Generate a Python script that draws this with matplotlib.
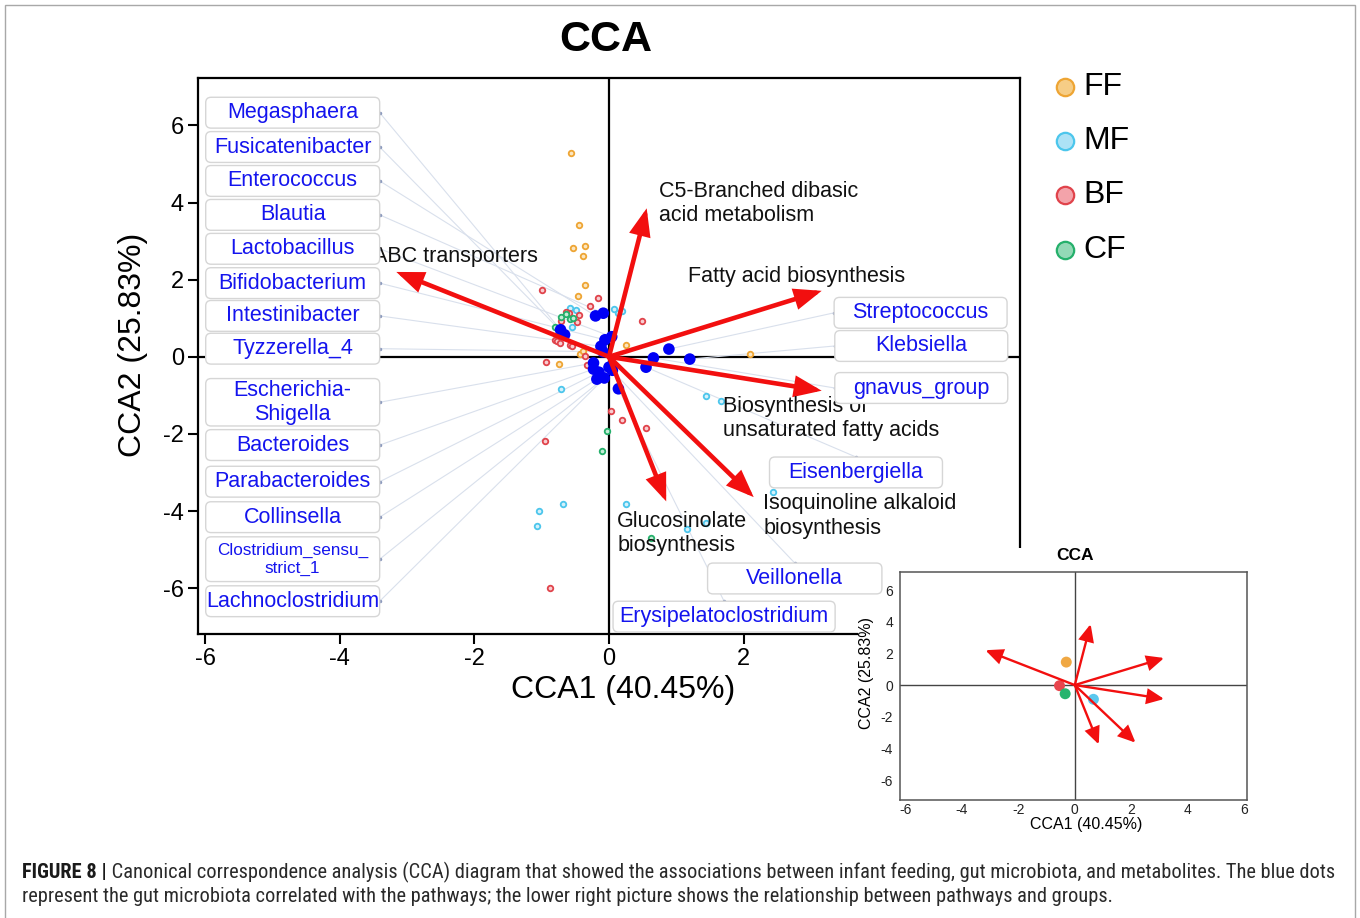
import matplotlib
matplotlib.use("Agg")
import matplotlib.pyplot as plt
from matplotlib.patches import FancyBboxPatch, FancyArrowPatch, Rectangle
from matplotlib.lines import Line2D
from matplotlib import font_manager
from matplotlib.font_manager import FontProperties

# ---------------- data ----------------
# sample scores on CCA1 / CCA2, one list pair per feeding group
ff_x = [-0.57, -0.45, -0.54, -0.36, -0.39, -0.35, -0.46, 0.25, -0.43, -0.39, -0.75, 2.09]
ff_y = [5.28, 3.43, 2.82, 2.87, 2.62, 1.85, 1.58, 0.30, 0.08, 0.14, -0.19, 0.08]

mf_x = [-0.58, -0.49, -0.55, 0.07, 0.13, 0.20, -0.72, 1.44, 1.66, -0.68, -1.04, -1.07, 0.25, 1.16, 1.44, 2.44]
mf_y = [1.26, 1.21, 0.78, 1.24, 1.14, 1.20, -0.83, -1.01, -1.14, -3.82, -3.99, -4.39, -3.81, -4.47, -4.32, -3.52]

bf_x = [-1.00, -0.17, -0.28, -0.59, -0.45, -0.71, -0.47, 0.49, -0.80, -0.78, -0.73, -0.58, -0.55,
        -0.35, -0.94, -0.33, 0.03, 0.19, 0.55, -0.95, -0.87, -0.64]
bf_y = [1.72, 1.52, 1.32, 1.14, 1.09, 0.94, 0.91, 0.94, 0.44, 0.40, 0.36, 0.31, 0.27,
        0.01, -0.14, -0.21, -1.41, -1.65, -1.84, -2.19, -5.99, 1.15]

cf_x = [-0.72, -0.64, -0.58, -0.53, -0.80, -0.03, -0.10, 0.62]
cf_y = [1.03, 1.10, 0.98, 1.00, 0.78, -1.93, -2.44, -4.71]

groups = ["FF", "MF", "BF", "CF"]

# genus scores
genera = ["Megasphaera", "Fusicatenibacter", "Enterococcus", "Blautia", "Lactobacillus",
          "Bifidobacterium", "Intestinibacter", "Tyzzerella_4", "Escherichia-\nShigella",
          "Bacteroides", "Parabacteroides", "Collinsella", "Clostridium_sensu_\nstrict_1",
          "Lachnoclostridium", "Streptococcus", "Klebsiella", "gnavus_group",
          "Eisenbergiella", "Veillonella", "Erysipelatoclostridium"]
genus_x = [-0.72, -0.66, -0.20, -0.085, 0.04, -0.06, -0.12, -0.09, -0.23, -0.23, -0.15, -0.18,
           -0.07, 0.05, 0.89, 1.20, 0.66, 0.55, 0.00, 0.14]
genus_y = [0.70, 0.57, 1.06, 1.13, 0.52, 0.44, 0.27, 0.13, -0.16, -0.32, -0.40, -0.58,
           -0.55, -0.35, 0.20, -0.06, -0.03, -0.27, -0.27, -0.83]

# pathway biplot vectors
pathways = ["ABC transporters", "C5-Branched dibasic\nacid metabolism", "Fatty acid biosynthesis",
            "Biosynthesis of\nunsaturated fatty acids", "Isoquinoline alkaloid\nbiosynthesis",
            "Glucosinolate\nbiosynthesis"]
path_x = [-3.16, 0.56, 3.16, 3.16, 2.15, 0.85]
path_y = [2.20, 3.85, 1.71, -0.88, -3.64, -3.75]

# group centroids for the small panel
centroid_x = [-0.30, 0.66, -0.54, -0.34]
centroid_y = [1.45, -0.90, -0.04, -0.55]

xlabel = "CCA1 (40.45%)"
ylabel = "CCA2 (25.83%)"
ticks = [-6, -4, -2, 0, 2, 4, 6]
main_xticks = [-6, -4, -2, 0, 2]   # the right part of the x axis sits behind the small panel

# ---------------- layout of genus labels (data coords) ----------------
lab_cx = [-4.70] * 14 + [4.63, 4.64, 4.64, 3.67, 2.76, 1.71]
lab_cy = [6.33, 5.44, 4.56, 3.68, 2.80, 1.91, 1.06, 0.21, -1.18, -2.29, -3.24, -4.16, -5.25,
          -6.34, 1.14, 0.28, -0.81, -3.00, -5.75, -6.74]
lab_w = [2.585] * 14 + [2.57, 2.57, 2.57, 2.57, 2.59, 3.30]
lab_h = [0.80] * 8 + [1.23, 0.80, 0.80, 0.80, 1.16, 0.80] + [0.80] * 6
lab_fs = [15.5] * 12 + [12.3] + [15.5] * 7
lab_anchor = ["r"] * 14 + ["l", "l", "l", "t", "t", "t"]

path_tx = [-3.50, 0.74, 1.17, 1.69, 2.29, 0.12]
path_ty = [2.61, 3.98, 2.09, -1.61, -4.13, -4.59]

# ---------------- style ----------------
W, H = 1360, 918
plt.rcParams["font.family"] = ["Liberation Sans", "DejaVu Sans"]
plt.rcParams["axes.unicode_minus"] = False

ring_edge = {"FF": "#eea534", "MF": "#4cc6ec", "BF": "#e0434b", "CF": "#25b06b"}
ring_face = {"FF": "#fbe6c0", "MF": "#d4f1fb", "BF": "#f8cdd0", "CF": "#c6ecd7"}
legend_face = {"FF": "#f6cd86", "MF": "#ade2f6", "BF": "#f3a3aa", "CF": "#93d9b6"}
solid = {"FF": "#f0a843", "MF": "#5bc8ee", "BF": "#e8464e", "CF": "#27b46e"}
RED = "#f20f0f"
BLUE = "#0000f5"
TXT_BLUE = "#1414ee"


def fx(x):
    return x / W


def fy(y):
    return 1 - y / H


def has_font(name):
    try:
        font_manager.findfont(FontProperties(family=name), fallback_to_default=False)
        return True
    except Exception:
        return False


def caption_props(weight):
    """Pick a narrow sans face for the caption if one is installed."""
    for fam in ["Liberation Sans Narrow", "Roboto Condensed", "Open Sans Condensed",
                "Noto Sans Condensed", "Arial Narrow"]:
        if has_font(fam):
            return FontProperties(family=[fam, "DejaVu Sans"], weight=weight)
    for fam in ["Roboto", "Noto Sans", "Open Sans"]:
        fp = FontProperties(family=fam, stretch="condensed", weight=weight)
        try:
            path = font_manager.findfont(fp, fallback_to_default=False)
        except Exception:
            continue
        if "condensed" in path.lower() or "narrow" in path.lower():
            return fp
    return FontProperties(family=["Liberation Sans", "DejaVu Sans"], weight=weight)


fig = plt.figure(figsize=(W / 100, H / 100), dpi=100)
fig.patch.set_facecolor("white")

# outer frame
frame = Rectangle((fx(5), fy(930)), fx(1350), (930 - 5) / H, transform=fig.transFigure,
                  fill=False, ec="#a8a8a8", lw=1.0, clip_on=False, zorder=0)
fig.add_artist(frame)

# ---------------- main biplot ----------------
ax = fig.add_axes([fx(198), fy(634), (1020 - 198) / W, (634 - 78) / H])
ax.set_zorder(1)
ax.set_xlim(-6.107, 6.107)
ax.set_ylim(-7.19, 7.23)
ax.set_xticks(main_xticks)
ax.set_yticks(ticks)
ax.set_xticklabels([str(t) for t in main_xticks])
ax.set_yticklabels([str(t) for t in ticks])
ax.tick_params(direction="out", length=7, width=1.5, labelsize=17, pad=3, colors="black")
for sp in ax.spines.values():
    sp.set_linewidth(1.6)
    sp.set_color("black")

ax.axhline(0, color="black", lw=1.6, zorder=1)
ax.axvline(0, color="black", lw=1.6, zorder=1)

ax.set_xlabel(xlabel, fontsize=23)
ax.xaxis.label.set_va("center")
ax.xaxis.set_label_coords((623 - 198) / 822, -(690 - 634) / 556)
ax.set_ylabel(ylabel, fontsize=23)
ax.yaxis.label.set_va("center")
ax.yaxis.set_label_coords(-(198 - 133) / 822, (634 - 345) / 556)

# segments joining genus points to their labels
aspect = 67.3 / 38.55
for i, name in enumerate(genera):
    cx, cy, w, h = lab_cx[i], lab_cy[i], lab_w[i], lab_h[i]
    side = lab_anchor[i]
    if side == "r":
        ex, ey = cx + w / 2, cy
    elif side == "l":
        ex, ey = cx - w / 2, cy
    else:
        ex, ey = cx, cy + h / 2
    ax.plot([genus_x[i], ex], [genus_y[i], ey], color="#d9e0ec", lw=0.8, zorder=2)
    ax.plot([ex], [ey], marker="o", ms=1.5, color="#8a98bc", zorder=2.1)

# samples
for g, xs, ys in zip(groups, [ff_x, mf_x, bf_x, cf_x], [ff_y, mf_y, bf_y, cf_y]):
    ax.scatter(xs, ys, s=16, facecolors=ring_face[g], edgecolors=ring_edge[g],
               linewidths=1.3, zorder=3)

# genera
ax.scatter(genus_x, genus_y, s=70, color=BLUE, edgecolors="none", zorder=4)

# pathway arrows
for x, y in zip(path_x, path_y):
    arr = FancyArrowPatch((0, 0), (x, y), arrowstyle="-|>,head_length=1.4,head_width=0.55",
                          mutation_scale=10, lw=3.3, color=RED, shrinkA=0, shrinkB=0,
                          joinstyle="miter", zorder=5)
    ax.add_patch(arr)

for name, x, y in zip(pathways, path_tx, path_ty):
    ax.text(x, y, name, fontsize=15.5, ha="left", va="center", color="#111111",
            linespacing=1.2, zorder=6)

# genus labels in rounded boxes
for i, name in enumerate(genera):
    cx, cy, w, h = lab_cx[i], lab_cy[i], lab_w[i], lab_h[i]
    box = FancyBboxPatch((cx - w / 2, cy - h / 2), w, h,
                         boxstyle="round,pad=0,rounding_size=0.08", mutation_aspect=aspect,
                         fc="white", ec="#d6d6d6", lw=1.0, zorder=7)
    ax.add_patch(box)
    ax.text(cx, cy, name, fontsize=lab_fs[i], ha="center", va="center", color=TXT_BLUE,
            linespacing=1.2, zorder=8)

# title
fig.text(fx(606), fy(40), "CCA", fontsize=31, weight="bold", ha="center", va="center")

# legend
for k, (g, yy) in enumerate(zip(groups, [87, 141, 195, 250])):
    fig.add_artist(Line2D([fx(1065)], [fy(yy)], marker="o", ms=12.5, mfc=legend_face[g],
                          mec=ring_edge[g], mew=1.6, ls="none", transform=fig.transFigure))
    fig.text(fx(1083), fy(yy), g, fontsize=23, ha="left", va="center")

# white backing behind the small panel
for (x0, y0, x1, y1) in [(884, 548, 1258, 838), (858, 600, 1258, 838)]:
    fig.add_artist(Rectangle((fx(x0), fy(y1)), (x1 - x0) / W, (y1 - y0) / H,
                             transform=fig.transFigure, fc="white", ec="none", zorder=2))

# ---------------- small panel: pathways vs groups ----------------
axi = fig.add_axes([fx(900), fy(800), (1247 - 900) / W, (800 - 572) / H])
axi.set_zorder(3)
axi.set_xlim(-6.18, 6.09)
axi.set_ylim(-7.26, 7.14)
axi.set_xticks(ticks)
axi.set_yticks(ticks)
axi.set_xticklabels([str(t) for t in ticks])
axi.set_yticklabels([str(t) for t in ticks])
axi.tick_params(length=0, labelsize=10, colors="#222222")
axi.tick_params(axis="x", pad=2)
axi.tick_params(axis="y", pad=5)
for sp in axi.spines.values():
    sp.set_linewidth(1.1)
    sp.set_color("#555555")
axi.axhline(0, color="#444444", lw=1.0, zorder=1)
axi.axvline(0, color="#444444", lw=1.0, zorder=1)
for g, x, y in zip(groups, centroid_x, centroid_y):
    axi.scatter([x], [y], s=62, color=solid[g], edgecolors="none", zorder=3)
for x, y in zip(path_x, path_y):
    arr = FancyArrowPatch((0, 0), (x, y), arrowstyle="-|>,head_length=1.0,head_width=0.45",
                          mutation_scale=10, lw=1.7, color=RED, shrinkA=0, shrinkB=0,
                          joinstyle="miter", zorder=4)
    axi.add_patch(arr)
fig.text(fx(1075), fy(556), "CCA", fontsize=12.5, weight="bold", ha="center", va="center",
         zorder=4)
fig.text(fx(1086), fy(825), xlabel, fontsize=11.5, ha="center", va="center", zorder=4)
fig.text(fx(867), fy(673), ylabel, fontsize=11.5, ha="center", va="center", rotation=90,
         zorder=4)

# ---------------- caption ----------------
fp_bold = caption_props("bold")
fp_reg = caption_props("normal")
cap_bold = "FIGURE 8 |"
cap_line1 = (" Canonical correspondence analysis (CCA) diagram that showed the associations "
             "between infant feeding, gut microbiota, and metabolites. The blue dots")
cap_line2 = ("represent the gut microbiota correlated with the pathways; the lower right picture "
             "shows the relationship between pathways and groups.")
fs = 14.0
x0 = 22
t_b = fig.text(fx(x0), fy(872), cap_bold, fontproperties=fp_bold.copy(),
               ha="left", va="center", color="#1a1a1a")
t_1 = fig.text(fx(x0), fy(872), cap_line1, fontproperties=fp_reg.copy(), ha="left",
               va="center", color="#2a2a2a")
t_2 = fig.text(fx(x0), fy(897), cap_line2, fontproperties=fp_reg.copy(), ha="left",
               va="center", color="#2a2a2a")
for t in (t_b, t_1, t_2):
    t.set_fontsize(fs)
for _ in range(3):
    fig.canvas.draw()
    r = fig.canvas.get_renderer()
    bw = t_b.get_window_extent(r).width
    t_1.set_x(fx(x0 + bw))
    fig.canvas.draw()
    right = t_1.get_window_extent(r).x1
    fs *= (1336 - x0) / (right - x0)
    for t in (t_b, t_1, t_2):
        t.set_fontsize(fs)
fig.canvas.draw()
r = fig.canvas.get_renderer()
t_1.set_x(fx(x0 + t_b.get_window_extent(r).width))

fig.savefig("out.png", dpi=100, facecolor="white")
